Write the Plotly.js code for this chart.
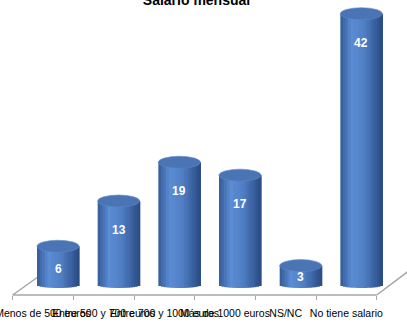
<!DOCTYPE html>
<html>
<head>
<meta charset="utf-8">
<script src="https://cdn.plot.ly/plotly-3.0.1.min.js"></script>
<style>
  html, body { margin: 0; padding: 0; background: #ffffff; }
  #chart { width: 407px; height: 325px; }
</style>
</head>
<body>
<div id="chart"></div>
<script>
// Salario mensual: número de respuestas por tramo
const categorias = [
  "Menos de 500 euros",
  "Entre 500 y 700 euros",
  "Entre 700 y 1000 euros",
  "Más de 1000 euros",
  "NS/NC",
  "No tiene salario"
];
const valores = [6, 13, 19, 17, 3, 42];

// Geometry of the pseudo-3D cylinders (category units / data units)
const PX_PER_UNIT = 6.46;          // vertical scale of the plot
const CAT_PX = 60.67;              // width of one category in pixels
const BAR_W = 42 / CAT_PX;         // cylinder diameter
const BAR_SHIFT = 15 / CAT_PX;     // depth offset of the cylinders
const TOP_RY = 6 / PX_PER_UNIT;    // top ellipse half-height
const BOT_RY = 3 / PX_PER_UNIT;    // bottom ellipse half-height
const STRIPS = 16;
const PLOT_H = 305;                // plot area height in pixels
const FLOOR_PX = 295;              // front edge of the floor
const ZERO_PX = 285;               // pixel row of value 0

// horizontal shading across the cylinder body
const stops = [
  [-1.0, [52, 90, 150]],
  [-0.45, [90, 140, 212]],
  [0.15, [80, 126, 196]],
  [1.0, [40, 74, 130]]
];
function shade(u) {
  for (let i = 0; i < stops.length - 1; i++) {
    const a = stops[i], b = stops[i + 1];
    if (u >= a[0] && u <= b[0]) {
      const t = (u - a[0]) / (b[0] - a[0]);
      const c = a[1].map((v, k) => Math.round(v + (b[1][k] - v) * t));
      return "rgb(" + c.join(",") + ")";
    }
  }
  return "rgb(40,74,130)";
}

const traces = [];
const stripW = BAR_W / STRIPS;
for (let s = 0; s < STRIPS; s++) {
  const u = -1 + (2 * s + 1) / STRIPS;
  const baseOff = -BOT_RY * Math.sqrt(Math.max(0, 1 - u * u));
  traces.push({
    type: "bar",
    x: categorias,
    y: valores.map(v => v - baseOff),
    base: valores.map(() => baseOff),
    offset: BAR_SHIFT - BAR_W / 2 + s * stripW,
    width: stripW * 1.25,
    marker: { color: shade(u), line: { width: 0 } },
    hoverinfo: "skip",
    showlegend: false
  });
}

const yMin = -(PLOT_H - ZERO_PX) / PX_PER_UNIT;
const yMax = ZERO_PX / PX_PER_UNIT;
const yFloor = -(FLOOR_PX - ZERO_PX) / PX_PER_UNIT;

const edge = { color: "#a6a6a6", width: 1.5 };
const shapes = [
  // floor outline
  { type: "line", xref: "x", yref: "y", x0: -0.5, x1: 5.5, y0: yFloor, y1: yFloor,
    line: edge, layer: "below" },
  { type: "line", xref: "x", yref: "y", x0: -0.5, x1: -0.5 + 28 / CAT_PX,
    y0: yFloor, y1: yFloor + 20 / PX_PER_UNIT, line: edge, layer: "below" },
  { type: "line", xref: "x", yref: "y", x0: 5.5, x1: 5.5 + 40 / CAT_PX,
    y0: yFloor, y1: yFloor + 30 / PX_PER_UNIT, line: edge, layer: "below" }
];

// cylinder lids
valores.forEach((v, i) => {
  shapes.push({
    type: "circle", xref: "x", yref: "y",
    x0: i + BAR_SHIFT - BAR_W / 2, x1: i + BAR_SHIFT + BAR_W / 2,
    y0: v - TOP_RY, y1: v + TOP_RY,
    fillcolor: "#4a74b4", line: { color: "#5c88c8", width: 0.6 }, layer: "above"
  });
});

// value labels inside the cylinders
const annotations = valores.map((v, i) => ({
  x: i + BAR_SHIFT, y: v - Math.min(4.5, v * 0.58),
  xref: "x", yref: "y", text: String(v), showarrow: false,
  font: { family: "Liberation Sans, Arial, sans-serif", size: 12, color: "#ffffff", weight: "bold" }
}));

const layout = {
  width: 407, height: 325,
  margin: { l: 0, r: 0, t: 0, b: 325 - PLOT_H, pad: 0 },
  paper_bgcolor: "#ffffff", plot_bgcolor: "#ffffff",
  barmode: "overlay",
  title: {
    text: "<b>Salario mensual</b>",
    x: 196.5 / 407, xanchor: "center", xref: "container",
    y: 1, yanchor: "middle", yref: "container",
    font: { family: "Liberation Sans, Arial, sans-serif", size: 14, color: "#000000" }
  },
  xaxis: {
    type: "category",
    range: [-43 / CAT_PX, (407 - 43) / CAT_PX],
    anchor: "free",
    position: (PLOT_H - FLOOR_PX) / PLOT_H,
    tickson: "boundaries",
    ticks: "outside", ticklen: 4, tickwidth: 1, tickcolor: "#a6a6a6",
    ticklabelstandoff: 10,
    showline: false, showgrid: false, zeroline: false,
    tickfont: { family: "Liberation Sans, Arial, sans-serif", size: 10.5, color: "#000000" },
    tickangle: 0, automargin: false
  },
  yaxis: {
    range: [yMin, yMax], visible: false, showgrid: false, zeroline: false
  },
  shapes: shapes,
  annotations: annotations,
  showlegend: false
};

Plotly.newPlot("chart", traces, layout, { displayModeBar: false, staticPlot: true });
</script>
</body>
</html>
